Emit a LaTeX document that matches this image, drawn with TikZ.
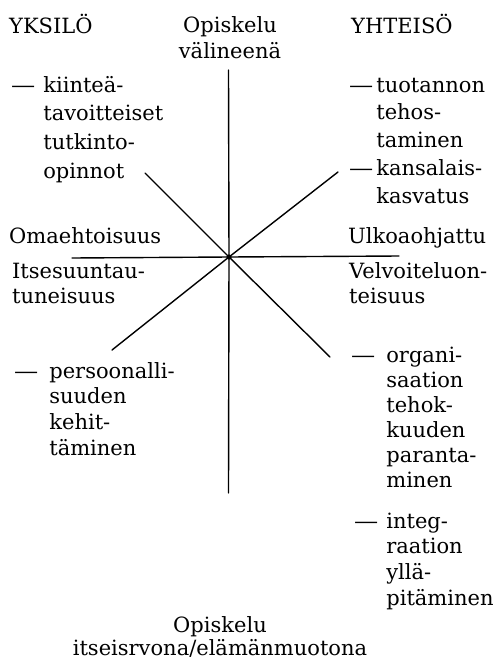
\documentclass[tikz,border=0pt]{standalone}
\usepackage{graphicx}
\usepackage{fontspec}
\setmainfont{DejaVu Serif}
\newcommand\longdash{\scalebox{1.15}[1]{—}}
\begin{document}
\begin{tikzpicture}[x=1pt,y=-1pt,
  txt/.style={inner sep=0pt, font=\fontsize{21}{26}\selectfont},
  lft/.style={txt, anchor=base west},
  ctr/.style={txt, anchor=base},
  ray/.style={line width=1.4pt, line cap=round}]
\useasboundingbox (0,0) rectangle (499,662);

% centre of the star
\coordinate (c) at (229,257);
\fill (c) circle (2.6);

% ray end points
\coordinate (n)  at (228.5,70);
\coordinate (s)  at (228.5,493);
\coordinate (w)  at (72,258);
\coordinate (e)  at (399,256);
\coordinate (nw) at (145,173);
\coordinate (ne) at (338,172);
\coordinate (sw) at (112,350);
\coordinate (se) at (330,357);

\foreach \p in {n,s,w,e,nw,ne,sw,se} \draw[ray] (c) -- (\p);

% headings
\node[lft] (yks) at (9,33) {YKSILÖ};
\node[lft] (yht) at (351,33) {YHTEISÖ};
\node[ctr] (top) at (230,32)
  {\begin{tabular}[t]{@{}c@{}}Opiskelu\\välineenä\end{tabular}};
\node[ctr] (bot) at (220,632)
  {\fontsize{21}{23}\selectfont\begin{tabular}[t]{@{}c@{}}Opiskelu\\itseisrvona/elämänmuotona\end{tabular}};

% axis labels
\node[lft] (oma) at (9,243) {Omaehtoisuus};
\node[lft] (ulk) at (348,243) {Ulkoaohjattu};
\node[lft] (its) at (12,278)
  {\fontsize{21}{25}\selectfont\begin{tabular}[t]{@{}l@{}}Itsesuuntau-\\tuneisuus\end{tabular}};
\node[lft] (vel) at (349,278)
  {\fontsize{21}{25}\selectfont\begin{tabular}[t]{@{}l@{}}Velvoiteluon-\\teisuus\end{tabular}};

% goal lists
\node[lft] (kii) at (11,92)
  {\fontsize{21}{28.7}\selectfont\begin{tabular}[t]{@{}l@{\hspace{8pt}}l@{}}
   \longdash&kiinteä-\\&tavoitteiset\\&tutkinto-\\&opinnot\end{tabular}};
\node[lft] (tuo) at (349,92)
  {\fontsize{21}{27.8}\selectfont\begin{tabular}[t]{@{}l@{\hspace{3pt}}l@{}}
   \longdash&tuotannon\\&tehos-\\&taminen\\\longdash&kansalais-\\&kasvatus\end{tabular}};
\node[lft] (per) at (14,378)
  {\fontsize{21}{25.7}\selectfont\begin{tabular}[t]{@{}l@{\hspace{11pt}}l@{}}
   \longdash&persoonalli-\\&suuden\\&kehit-\\&täminen\end{tabular}};
\node[lft] (org) at (351,362)
  {\fontsize{21}{25}\selectfont\begin{tabular}[t]{@{}l@{\hspace{11pt}}l@{}}
   \longdash&organi-\\&saation\\&tehok-\\&kuuden\\&paranta-\\&minen\end{tabular}};
\node[lft] (int) at (354,528)
  {\fontsize{21}{25.7}\selectfont\begin{tabular}[t]{@{}l@{\hspace{8pt}}l@{}}
   \longdash&integ-\\&raation\\&yllä-\\&pitäminen\end{tabular}};
\end{tikzpicture}
\end{document}
